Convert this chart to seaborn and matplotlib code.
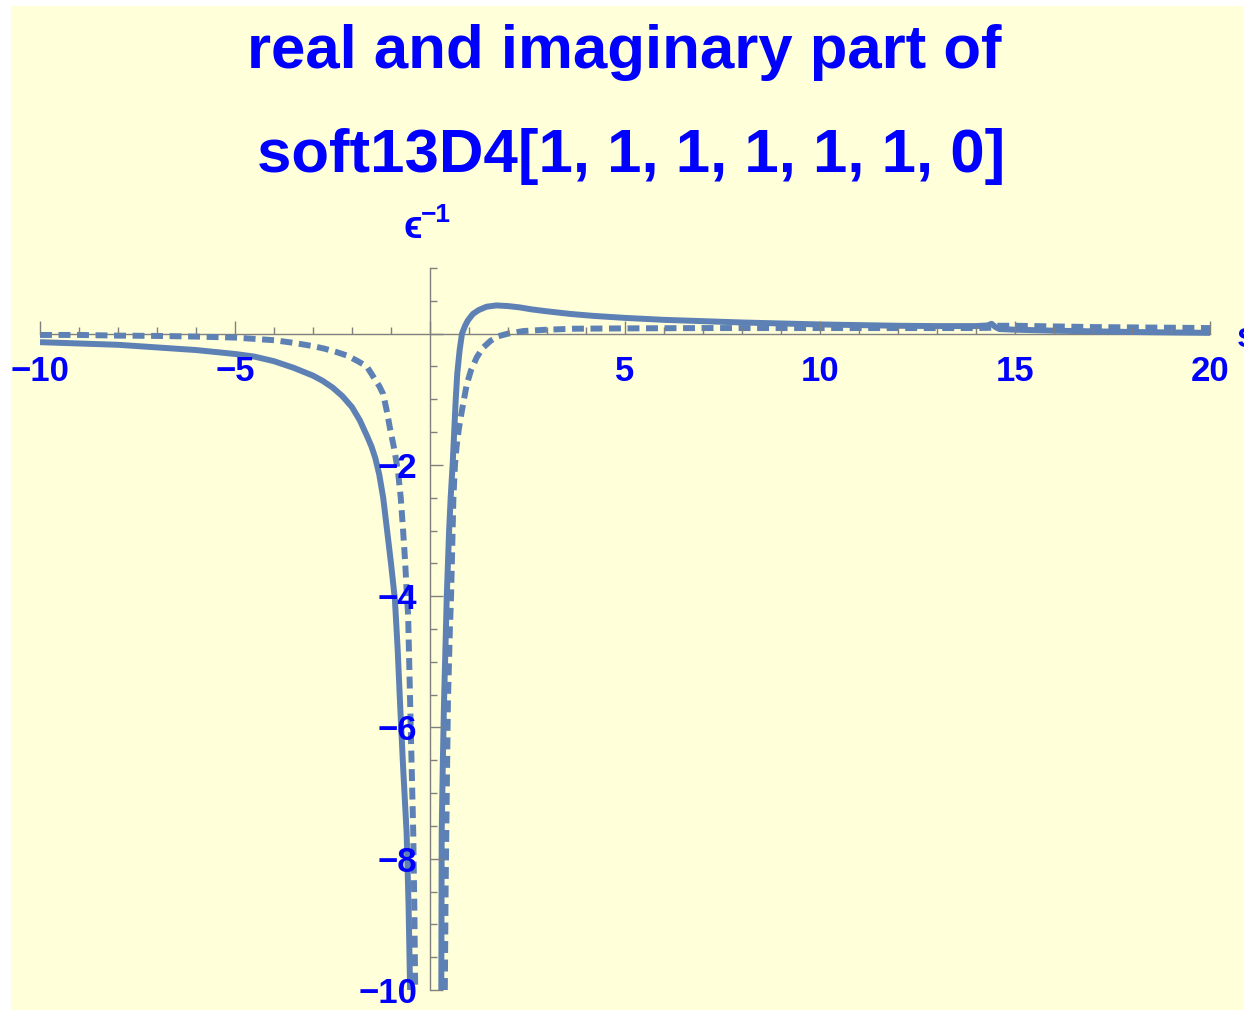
import matplotlib
matplotlib.use("Agg")
import matplotlib.pyplot as plt
import matplotlib.ticker as mticker
from matplotlib.patches import Rectangle
import seaborn as sns
import pandas as pd

# Real part: branch left of the pole pair and branch right of it
re_left_s = [-10, -9, -8, -7, -6, -5, -4.5, -4, -3.5, -3, -2.75, -2.5, -2.25, -2.0,
             -1.8, -1.7, -1.6, -1.5, -1.4, -1.3, -1.2, -1.1, -1.0, -0.9, -0.83, -0.77,
             -0.69, -0.60, -0.55, -0.51]
re_left_v = [-0.13, -0.15, -0.17, -0.21, -0.25, -0.31, -0.35, -0.42, -0.52, -0.64,
             -0.72, -0.82, -0.95, -1.12, -1.32, -1.45, -1.58, -1.72, -1.90, -2.15,
             -2.5, -3.0, -3.5, -4.05, -4.8, -5.6, -6.6, -7.6, -8.7, -10.0]

re_right_s = [0.29, 0.30, 0.33, 0.36, 0.40, 0.43, 0.46, 0.49, 0.53, 0.58, 0.62, 0.66,
              0.70, 0.76, 0.82, 0.90, 0.97, 1.1, 1.25, 1.45, 1.7, 2.0, 2.3, 2.6, 3.0,
              3.6, 4.2, 5.0, 6.0, 7.0, 8.0, 9.0, 10.0, 11.0, 12.0, 13.0, 14.0, 14.3,
              14.4, 14.5, 14.6, 15.0, 16.0, 17.0, 18.0, 19.0, 20.0]
re_right_v = [-10.0, -7.6, -6.5, -5.6, -4.7, -4.0, -3.5, -3.0, -2.5, -2.0, -1.5, -1.0,
              -0.6, -0.25, 0.0, 0.12, 0.20, 0.30, 0.36, 0.41, 0.43, 0.42, 0.40, 0.37,
              0.34, 0.30, 0.27, 0.24, 0.21, 0.19, 0.17, 0.155, 0.14, 0.13, 0.12, 0.115,
              0.115, 0.125, 0.15, 0.10, 0.07, 0.06, 0.045, 0.035, 0.025, 0.018, 0.012]

# Imaginary part
im_left_s = [-10, -9, -8, -7, -6, -5, -4.5, -4, -3.5, -3, -2.7, -2.4, -2.1, -1.85,
             -1.62, -1.45, -1.3, -1.2, -1.1, -1.03, -0.92, -0.82, -0.75, -0.69, -0.64,
             -0.60, -0.56, -0.51, -0.47, -0.43, -0.40, -0.38]
im_left_v = [-0.02, -0.02, -0.03, -0.035, -0.045, -0.06, -0.08, -0.10, -0.14, -0.19,
             -0.23, -0.28, -0.34, -0.42, -0.50, -0.66, -0.80, -0.92, -1.2, -1.43,
             -1.75, -2.1, -2.5, -3.0, -3.45, -3.9, -4.3, -5.6, -6.6, -7.6, -8.8, -10.0]

im_right_s = [0.38, 0.40, 0.43, 0.46, 0.51, 0.54, 0.56, 0.58, 0.60, 0.64, 0.68, 0.74,
              0.81, 0.94, 1.05, 1.2, 1.35, 1.55, 1.75, 2.0, 2.4, 3.0, 3.7, 5.0, 7.0,
              10.0, 12.0, 14.0, 14.4, 14.5, 15.0, 16.0, 17.0, 18.0, 19.0, 20.0]
im_right_v = [-10.0, -8.5, -7.0, -5.6, -4.5, -4.0, -3.5, -3.0, -2.5, -2.0, -1.73, -1.45,
              -1.2, -0.78, -0.56, -0.36, -0.22, -0.11, -0.04, 0.0, 0.04, 0.06, 0.075,
              0.08, 0.085, 0.085, 0.085, 0.085, 0.09, 0.12, 0.12, 0.11, 0.10, 0.095,
              0.09, 0.085]

x_major = [-10, -5, 0, 5, 10, 15, 20]
y_major = [-10, -8, -6, -4, -2, 0]

title_lines = ["real and imaginary part of", "soft13D4[1, 1, 1, 1, 1, 1, 0]"]
x_label = "s"
y_label_base = "\u03f5"
y_label_sup = "\u22121"

LINE = "#5e81b5"
TEXT = "#0000ff"
BG = "#ffffd9"
AXC = "#808080"

W, H = 1244, 1010
fig = plt.figure(figsize=(W / 100, H / 100), dpi=100, facecolor="white")
fig.patches.append(Rectangle((11 / W, 0), 1 - 11 / W, 1 - 6 / H,
                             transform=fig.transFigure, facecolor=BG,
                             edgecolor="none", zorder=-5))

ax = fig.add_axes([40 / W, 1 - 990 / H, 1170 / W, 722 / H])
ax.set_facecolor("none")
ax.set_zorder(1)

DASH = (0, (2.0, 1.1))
branches = [
    (re_left_s, re_left_v, "-"),
    (re_right_s, re_right_v, "-"),
    (im_left_s, im_left_v, DASH),
    (im_right_s, im_right_v, DASH),
]
for xs, ys, ls in branches:
    df = pd.DataFrame({"s": xs, "v": ys})
    sns.lineplot(data=df, x="s", y="v", ax=ax, sort=False, estimator=None,
                 color=LINE, linewidth=4.3, linestyle=ls, zorder=2)
for ln in ax.lines:
    ln.set_solid_capstyle("butt")
    ln.set_dash_capstyle("butt")
    ln.set_solid_joinstyle("round")

ax.set_xlim(-10, 20)
ax.set_ylim(-10, 1.0)
ax.set_xlabel("")
ax.set_ylabel("")

for side in ("top", "right"):
    ax.spines[side].set_visible(False)
ax.spines["left"].set_position(("data", 0))
ax.spines["bottom"].set_position(("data", 0))
for side in ("left", "bottom"):
    ax.spines[side].set_color(AXC)
    ax.spines[side].set_linewidth(1.0)
    ax.spines[side].set_zorder(1.5)
# tick labels sit on top of the curves
ax.xaxis.set_zorder(4)
ax.yaxis.set_zorder(4)


def fmt(v, pos):
    if abs(v) < 1e-9:
        return ""
    return f"{int(v)}".replace("-", "\u2212")


ax.xaxis.set_major_locator(mticker.FixedLocator(x_major))
ax.xaxis.set_minor_locator(mticker.MultipleLocator(1))
ax.yaxis.set_major_locator(mticker.FixedLocator(y_major))
ax.yaxis.set_minor_locator(mticker.MultipleLocator(0.5))
ax.xaxis.set_major_formatter(mticker.FuncFormatter(fmt))
ax.yaxis.set_major_formatter(mticker.FuncFormatter(fmt))

ax.tick_params(axis="both", which="both", direction="in", color=AXC, width=1.0)
ax.tick_params(axis="both", which="major", length=9.4)
ax.tick_params(axis="both", which="minor", length=5.2)
ax.tick_params(axis="x", which="major", pad=15.5)
ax.tick_params(axis="y", which="major", pad=9.0)
for lab in ax.get_xticklabels() + ax.get_yticklabels():
    lab.set_fontfamily(["Liberation Sans", "DejaVu Sans"])
    lab.set_fontweight("bold")
    lab.set_fontsize(25)
    lab.set_color(TEXT)

tf = dict(color=TEXT, fontweight="bold", family=["Liberation Sans", "DejaVu Sans"])
fig.text(624 / W, 1 - 68 / H, title_lines[0], ha="center", va="baseline",
         fontsize=44.5, **tf)
fig.text(631 / W, 1 - 172 / H, title_lines[1], ha="center", va="baseline",
         fontsize=44.5, **tf)
fig.text(404 / W, 1 - 238 / H, y_label_base, ha="left", va="baseline",
         fontsize=28, **tf)
fig.text(421 / W, 1 - 222 / H, y_label_sup, ha="left", va="baseline",
         fontsize=19, **tf)
fig.text(1237 / W, 1 - 337 / H, x_label, ha="left", va="center",
         fontsize=25, **tf)

fig.savefig("out.png", dpi=100, facecolor="white")
